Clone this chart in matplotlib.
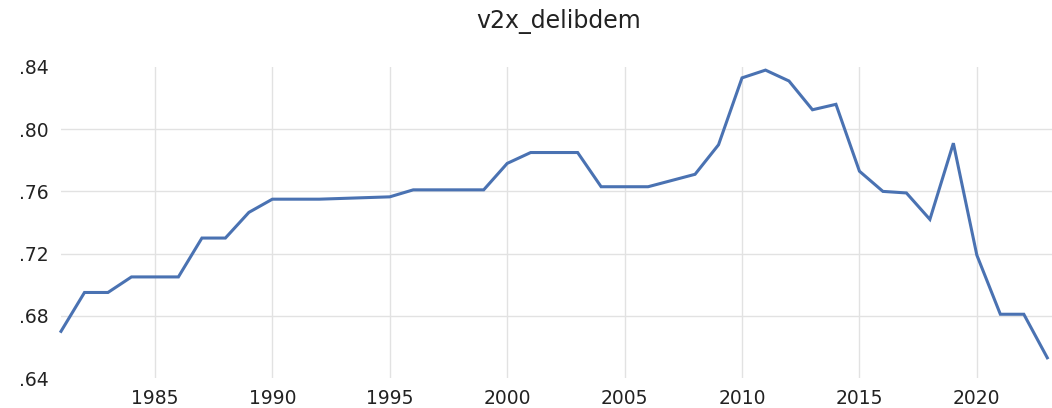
import matplotlib
matplotlib.use("Agg")
import matplotlib.pyplot as plt
import numpy as np

# v2x_delibdem, yearly values
years = list(range(1981, 2024))
delibdem = [0.670, 0.695, 0.695, 0.705, 0.705, 0.705, 0.730, 0.730, 0.7465, 0.755,
            0.755, 0.755, 0.7555, 0.756, 0.7565, 0.761, 0.761, 0.761, 0.761, 0.778,
            0.785, 0.785, 0.785, 0.763, 0.763, 0.763, 0.767, 0.771, 0.790, 0.833,
            0.838, 0.831, 0.8125, 0.816, 0.773, 0.760, 0.759, 0.742, 0.791, 0.719,
            0.681, 0.681, 0.653]
x_ticks = [1985, 1990, 1995, 2000, 2005, 2010, 2015, 2020]
y_ticks = [0.64, 0.68, 0.72, 0.76, 0.80, 0.84]
y_labels = [".64", ".68", ".72", ".76", ".80", ".84"]

plt.rcParams['font.family'] = ['DejaVu Sans']

fig = plt.figure(figsize=(10.52, 4.08), dpi=100)
ax = fig.add_axes([61 / 1052, 1 - 378 / 408, 1 - 61 / 1052, (378 - 67) / 408])

ax.plot(years, delibdem, color='#4a72b2', linewidth=2.2, solid_joinstyle='miter', clip_on=False)

ax.set_xlim(1981, 2023.2)
ax.set_ylim(0.64, 0.84)
ax.set_xticks(x_ticks)
ax.set_yticks(y_ticks)
ax.set_yticklabels(y_labels)
ax.tick_params(length=0, labelsize=13.5, colors='#222222')
ax.tick_params(axis='x', pad=8)
ax.tick_params(axis='y', pad=9)

ax.grid(True, color='#e2e2e2', linewidth=1.0)
ax.set_axisbelow(True)
for s in ax.spines.values():
    s.set_visible(False)
# no horizontal gridline on the bottom and top edge
ygl = ax.yaxis.get_gridlines()
ygl[0].set_visible(False)
ygl[-1].set_visible(False)

fig.text(559 / 1052, 1 - 22 / 408, "v2x_delibdem", ha='center', va='center',
         fontsize=17, color='#222222')

fig.savefig('out.png', dpi=100)
